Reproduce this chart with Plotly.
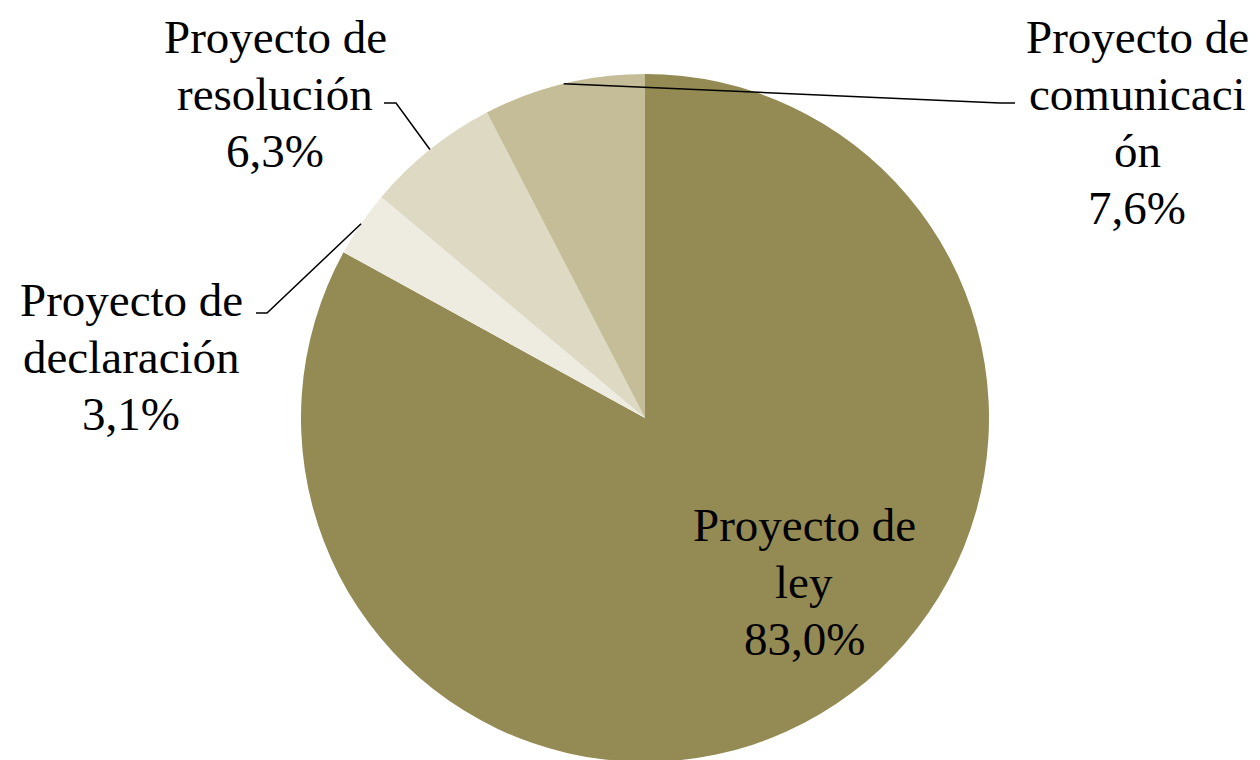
import math
import plotly.graph_objects as go

# ---- data ----
categories = ["Proyecto de ley", "Proyecto de declaración", "Proyecto de resolución", "Proyecto de comunicación"]
values = [83.0, 3.1, 6.3, 7.6]
label_lines = [
    ["Proyecto de", "ley", "83,0%"],
    ["Proyecto de", "declaración", "3,1%"],
    ["Proyecto de", "resolución", "6,3%"],
    ["Proyecto de", "comunicaci", "ón", "7,6%"],
]
colors = ["#948A54", "#EEECE1", "#DDD9C3", "#C4BD97"]

W, H = 1260, 760
OFF = 8  # page body margin

def px2paper(x, y):
    return (x - OFF) / W, 1 - (y - OFF) / H

# pie placement (page pixels): center (645, 418), radius 344
dom_x = [(301 - OFF) / W, (989 - OFF) / W]
dom_y = [1 - (762 - OFF) / H, 1 - (74 - OFF) / H]

# label centers (page pixels) and elbow points for leader lines (None = inside)
label_pos = [(804, 582), (131, 357), (275, 94), (1137, 122.5)]
elbows = [None, (256, 313, 267, 313), (384, 103, 396, 103), (1015, 103, 1000, 103)]
LINE_GAP = 57

fig = go.Figure(go.Pie(
    labels=categories, values=values, sort=False, direction="clockwise", rotation=0,
    marker=dict(colors=colors, line=dict(width=0)),
    textinfo="none", hoverinfo="skip", showlegend=False,
    domain=dict(x=dom_x, y=dom_y),
))

# pie geometry in page pixels
wpx = (dom_x[1] - dom_x[0]) * W
hpx = (dom_y[1] - dom_y[0]) * H
r = min(wpx, hpx) / 2
cx = (dom_x[0] + dom_x[1]) / 2 * W + OFF
cy = (1 - (dom_y[0] + dom_y[1]) / 2) * H + OFF

total = sum(values)
cum = 0
font = dict(family="Liberation Serif", size=47, color="black")
shapes = []
annotations = []
for i, v in enumerate(values):
    mid = (cum + v / 2) / total * 2 * math.pi
    cum += v
    ex = cx + r * math.sin(mid)
    ey = cy - r * math.cos(mid)
    lx, ly = label_pos[i]
    n = len(label_lines[i])
    for k, line in enumerate(label_lines[i]):
        yy = ly + (k - (n - 1) / 2) * LINE_GAP
        ax, ay = px2paper(lx, yy)
        annotations.append(dict(x=ax, y=ay, xref="paper", yref="paper", text=line,
                                showarrow=False, font=font, align="center",
                                xanchor="center", yanchor="middle"))
    if elbows[i] is not None:
        x0, y0, x1, y1 = elbows[i]
        p0 = px2paper(x0, y0)
        p1 = px2paper(x1, y1)
        p2 = px2paper(ex, ey)
        shapes.append(dict(type="path", xref="paper", yref="paper",
                           path=f"M {p0[0]} {p0[1]} L {p1[0]} {p1[1]} L {p2[0]} {p2[1]}",
                           line=dict(color="black", width=1.5)))

fig.update_layout(
    width=W, height=H, margin=dict(l=0, r=0, t=0, b=0),
    paper_bgcolor="white", plot_bgcolor="white",
    annotations=annotations, shapes=shapes,
)
fig.write_html("out.html")
